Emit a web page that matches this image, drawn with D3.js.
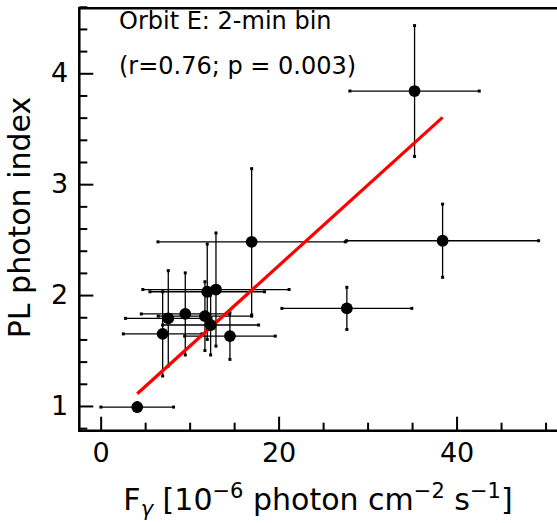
<!DOCTYPE html>
<html>
<head>
<meta charset="utf-8">
<script src="https://cdn.jsdelivr.net/npm/d3@7"></script>
<style>
  body { margin: 0; background: #fff; }
  text { font-family: "DejaVu Sans", sans-serif; fill: #000; }
</style>
</head>
<body>
<script>
// gamma-ray flux vs PL photon index, 2-min bins of orbit E
const flux     = [4.11, 6.97, 7.60, 9.51, 11.72, 12.36, 14.53, 11.98, 12.96, 16.97, 27.67, 38.43, 35.28];
const fluxErr  = [4.08, 4.42, 4.80, 4.94, 5.25, 5.39, 5.09, 6.44, 8.22, 10.53, 7.30, 10.79, 7.27];
const photonIndex = [0.99, 1.65, 1.79, 1.83, 1.81, 1.73, 1.63, 2.03, 2.05, 2.48, 1.88, 2.49, 3.84];
const indexErr = [0.04, 0.38, 0.43, 0.37, 0.31, 0.27, 0.21, 0.43, 0.51, 0.66, 0.19, 0.33, 0.59];

const xTicks = [0, 20, 40];
const yTicks = [1, 2, 3, 4];

// linear fit
const fitSlope = 0.0726;
const fitIntercept = 0.812;

const W = 557, H = 523;
const mLeft = 79.3, mRight = 562, mTop = 8.3, mBottom = 430.7;

let svg = d3.select("body").append("svg")
    .attr("width", W)
    .attr("height", H)

let x = d3.scaleLinear().domain([-2.4, 51.85]).range([mLeft, mRight])
let y = d3.scaleLinear().domain([0.777, 4.586]).range([mBottom, mTop])

let data = flux.map((f, i) => ({ x: f, xe: fluxErr[i], y: photonIndex[i], ye: indexErr[i] }))

// error bars
let bars = svg.append("g").attr("stroke", "black").attr("stroke-width", 1.3)
bars.selectAll(".xe")
    .data(data)
    .enter()
    .append("line")
    .attr("x1", d => x(d.x - d.xe))
    .attr("x2", d => x(d.x + d.xe))
    .attr("y1", d => y(d.y))
    .attr("y2", d => y(d.y))
bars.selectAll(".ye")
    .data(data)
    .enter()
    .append("line")
    .attr("x1", d => x(d.x))
    .attr("x2", d => x(d.x))
    .attr("y1", d => y(d.y - d.ye))
    .attr("y2", d => y(d.y + d.ye))

// little square caps
let caps = []
data.forEach(d => {
    caps.push([x(d.x - d.xe), y(d.y)], [x(d.x + d.xe), y(d.y)])
    caps.push([x(d.x), y(d.y - d.ye)], [x(d.x), y(d.y + d.ye)])
})
svg.append("g").selectAll("rect")
    .data(caps)
    .enter()
    .append("rect")
    .attr("x", c => c[0] - 1.5)
    .attr("y", c => c[1] - 1.5)
    .attr("width", 3)
    .attr("height", 3)
    .attr("fill", "black")

// fit line
let xFit = d3.extent(flux)
svg.append("line")
    .attr("x1", x(xFit[0]))
    .attr("y1", y(fitIntercept + fitSlope * xFit[0]))
    .attr("x2", x(xFit[1]))
    .attr("y2", y(fitIntercept + fitSlope * xFit[1]))
    .attr("stroke", "red")
    .attr("stroke-width", 3.2)

// points
svg.append("g").selectAll("circle")
    .data(data)
    .enter()
    .append("circle")
    .attr("cx", d => x(d.x))
    .attr("cy", d => y(d.y))
    .attr("r", 5.9)
    .attr("fill", "black")

// axes, ticks pointing inwards
let xAxis = d3.axisBottom(x).tickValues(xTicks).tickSize(-14).tickPadding(12).tickFormat(d3.format("d"))
let xMinor = d3.axisBottom(x).tickValues(d3.range(0, 55, 5).filter(v => !xTicks.includes(v))).tickSize(-8).tickFormat("")
let yAxis = d3.axisLeft(y).tickValues(yTicks).tickSize(-14).tickPadding(11).tickFormat(d3.format("d"))
let yMinor = d3.axisLeft(y).tickValues(d3.range(0.8, 4.61, 0.2).filter(v => Math.abs(v - Math.round(v)) > 0.01)).tickSize(-8).tickFormat("")

svg.append("g").attr("transform", "translate(0," + mBottom + ")").call(xAxis)
svg.append("g").attr("transform", "translate(0," + mBottom + ")").call(xMinor)
svg.append("g").attr("transform", "translate(" + mLeft + ",0)").call(yAxis)
svg.append("g").attr("transform", "translate(" + mLeft + ",0)").call(yMinor)

svg.selectAll(".domain").remove()
svg.selectAll(".tick line").attr("stroke", "black").attr("stroke-width", 2)
svg.selectAll(".tick text").attr("font-size", 27).attr("font-family", "DejaVu Sans")

// frame (right side is outside the picture)
svg.append("path")
    .attr("d", "M" + mRight + "," + mTop + "H" + mLeft + "V" + mBottom + "H" + mRight)
    .attr("fill", "none")
    .attr("stroke", "black")
    .attr("stroke-width", 2.5)

// annotation
svg.append("text").attr("x", 119).attr("y", 28.5).attr("font-size", 24).text("Orbit E: 2-min bin")
svg.append("text").attr("x", 119).attr("y", 73.5).attr("font-size", 24).text("(r=0.76; p = 0.003)")

// axis labels
svg.append("text")
    .attr("transform", "translate(30," + ((mTop + mBottom) / 2 - 2) + ") rotate(-90)")
    .attr("text-anchor", "middle")
    .attr("font-size", 30)
    .text("PL photon index")

let xl = svg.append("text")
    .attr("x", 318)
    .attr("y", 510)
    .attr("text-anchor", "middle")
    .attr("font-size", 30)
xl.append("tspan").text("F")
xl.append("tspan").attr("font-size", 21).attr("font-style", "italic").attr("dy", 6).text("γ")
xl.append("tspan").attr("dy", -6).text(" [10")
xl.append("tspan").attr("font-size", 21).attr("dy", -12).text("−6")
xl.append("tspan").attr("dy", 12).text(" photon cm")
xl.append("tspan").attr("font-size", 21).attr("dy", -12).text("−2")
xl.append("tspan").attr("dy", 12).text(" s")
xl.append("tspan").attr("font-size", 21).attr("dy", -12).text("−1")
xl.append("tspan").attr("dy", 12).text("]")
</script>
</body>
</html>
